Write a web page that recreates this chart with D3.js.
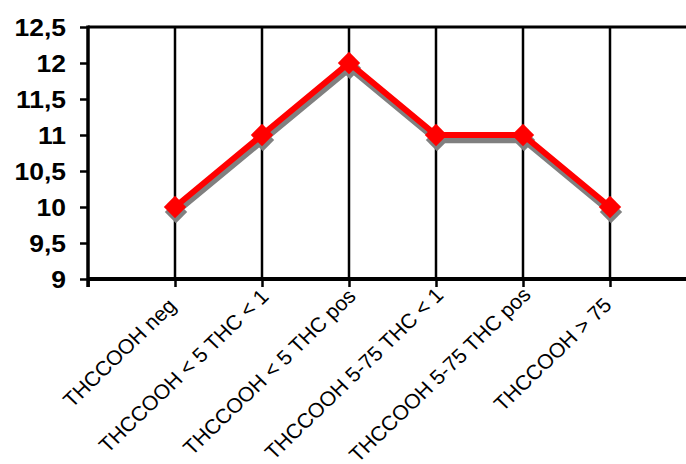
<!DOCTYPE html>
<html>
<head>
<meta charset="utf-8">
<script src="https://cdn.jsdelivr.net/npm/d3@7"></script>
<style>
  html, body { margin: 0; padding: 0; background: #fff; }
  svg { display: block; }
</style>
</head>
<body>
<svg id="chart" width="686" height="464"></svg>
<script>
const categories = [
  "THCCOOH neg",
  "THCCOOH < 5 THC < 1",
  "THCCOOH < 5 THC pos",
  "THCCOOH 5-75 THC < 1",
  "THCCOOH 5-75 THC pos",
  "THCCOOH > 75"
];
const values = [10, 11, 12, 11, 11, 10];
const yTicks = [9, 9.5, 10, 10.5, 11, 11.5, 12, 12.5];
const yTickLabels = ["9", "9,5", "10", "10,5", "11", "11,5", "12", "12,5"];

(function () {
const svg = d3.select("#chart");
const W = 686;
const mLeft = 88, mTop = 27, mBottom = 279;

const x = d3.scaleLinear().domain([0, categories.length + 1]).range([mLeft, mLeft + 87 * (categories.length + 1)]);
const y = d3.scaleLinear().domain([9, 12.5]).range([mBottom, mTop]);

// vertical gridlines at categories
svg.append("g").selectAll("line").data(d3.range(1, categories.length + 2)).join("line")
  .attr("x1", d => x(d)).attr("x2", d => x(d))
  .attr("y1", y(12.5)).attr("y2", y(9))
  .attr("stroke", "#000").attr("stroke-width", 2.5);

// top border
svg.append("line")
  .attr("x1", mLeft).attr("x2", W).attr("y1", y(12.5)).attr("y2", y(12.5))
  .attr("stroke", "#000").attr("stroke-width", 3);

// x axis
const xAxis = d3.axisBottom(x).tickValues(d3.range(0, categories.length + 2)).tickSize(8).tickFormat("");
const gx = svg.append("g").attr("transform", `translate(0,${mBottom})`).call(xAxis);
gx.select(".domain").remove();
gx.selectAll(".tick line").attr("stroke", "#000").attr("stroke-width", 2.5);
svg.append("line").attr("x1", mLeft).attr("x2", W).attr("y1", mBottom).attr("y2", mBottom)
  .attr("stroke", "#000").attr("stroke-width", 4);

// x labels (shorter labels sit a little lower/left, as in the source)
const xl = svg.append("g").selectAll("text").data(categories).join("text")
  .attr("text-anchor", "end")
  .attr("font-family", "Liberation Sans, Arial, sans-serif")
  .attr("font-size", 20.5)
  .attr("fill", "#000")
  .text(d => d);
const lens = [];
xl.each(function () { lens.push(this.getComputedTextLength()); });
const maxLen = d3.max(lens);
xl.attr("transform", (d, i) => {
  const dl = maxLen - lens[i];
  const ax = x(i + 1) + 9 - dl * 0.07;
  const ay = mBottom + 17 + dl * 0.12;
  return `translate(${ax},${ay}) scale(1.04,1) rotate(-45)`;
});

// y axis
const yAxis = d3.axisLeft(y).tickValues(yTicks).tickSize(8).tickFormat("");
const gy = svg.append("g").attr("transform", `translate(${mLeft},0)`).call(yAxis);
gy.select(".domain").remove();
gy.selectAll(".tick line").attr("stroke", "#000").attr("stroke-width", 2.5);
svg.append("line").attr("x1", mLeft).attr("x2", mLeft).attr("y1", y(12.5) - 1.5).attr("y2", mBottom + 8)
  .attr("stroke", "#000").attr("stroke-width", 3.5);

svg.append("g").selectAll("text").data(yTicks).join("text")
  .attr("transform", d => `translate(66,${y(d) + 8.5}) scale(1.15,1)`)
  .attr("text-anchor", "end")
  .attr("font-family", "Liberation Sans, Arial, sans-serif")
  .attr("font-weight", "bold")
  .attr("font-size", 23)
  .attr("fill", "#000")
  .text((d, i) => yTickLabels[i]);

// series
const pts = values.map((v, i) => [x(i + 1), y(v)]);
const line = d3.line();
const diamond = d3.symbol().type(d3.symbolDiamond2).size(320);

const shadow = svg.append("g").attr("transform", "translate(1,5)");
shadow.append("path").attr("d", line(pts)).attr("fill", "none")
  .attr("stroke", "#808080").attr("stroke-width", 6.5).attr("stroke-linejoin", "miter");
shadow.selectAll("path.m").data(pts).join("path").attr("class", "m")
  .attr("transform", d => `translate(${d[0]},${d[1]})`)
  .attr("d", diamond).attr("fill", "#808080");

const main = svg.append("g");
main.append("path").attr("d", line(pts)).attr("fill", "none")
  .attr("stroke", "#ff0000").attr("stroke-width", 6).attr("stroke-linejoin", "miter");
main.selectAll("path.m").data(pts).join("path").attr("class", "m")
  .attr("transform", d => `translate(${d[0]},${d[1]})`)
  .attr("d", diamond).attr("fill", "#ff0000");
})();
</script>
</body>
</html>
